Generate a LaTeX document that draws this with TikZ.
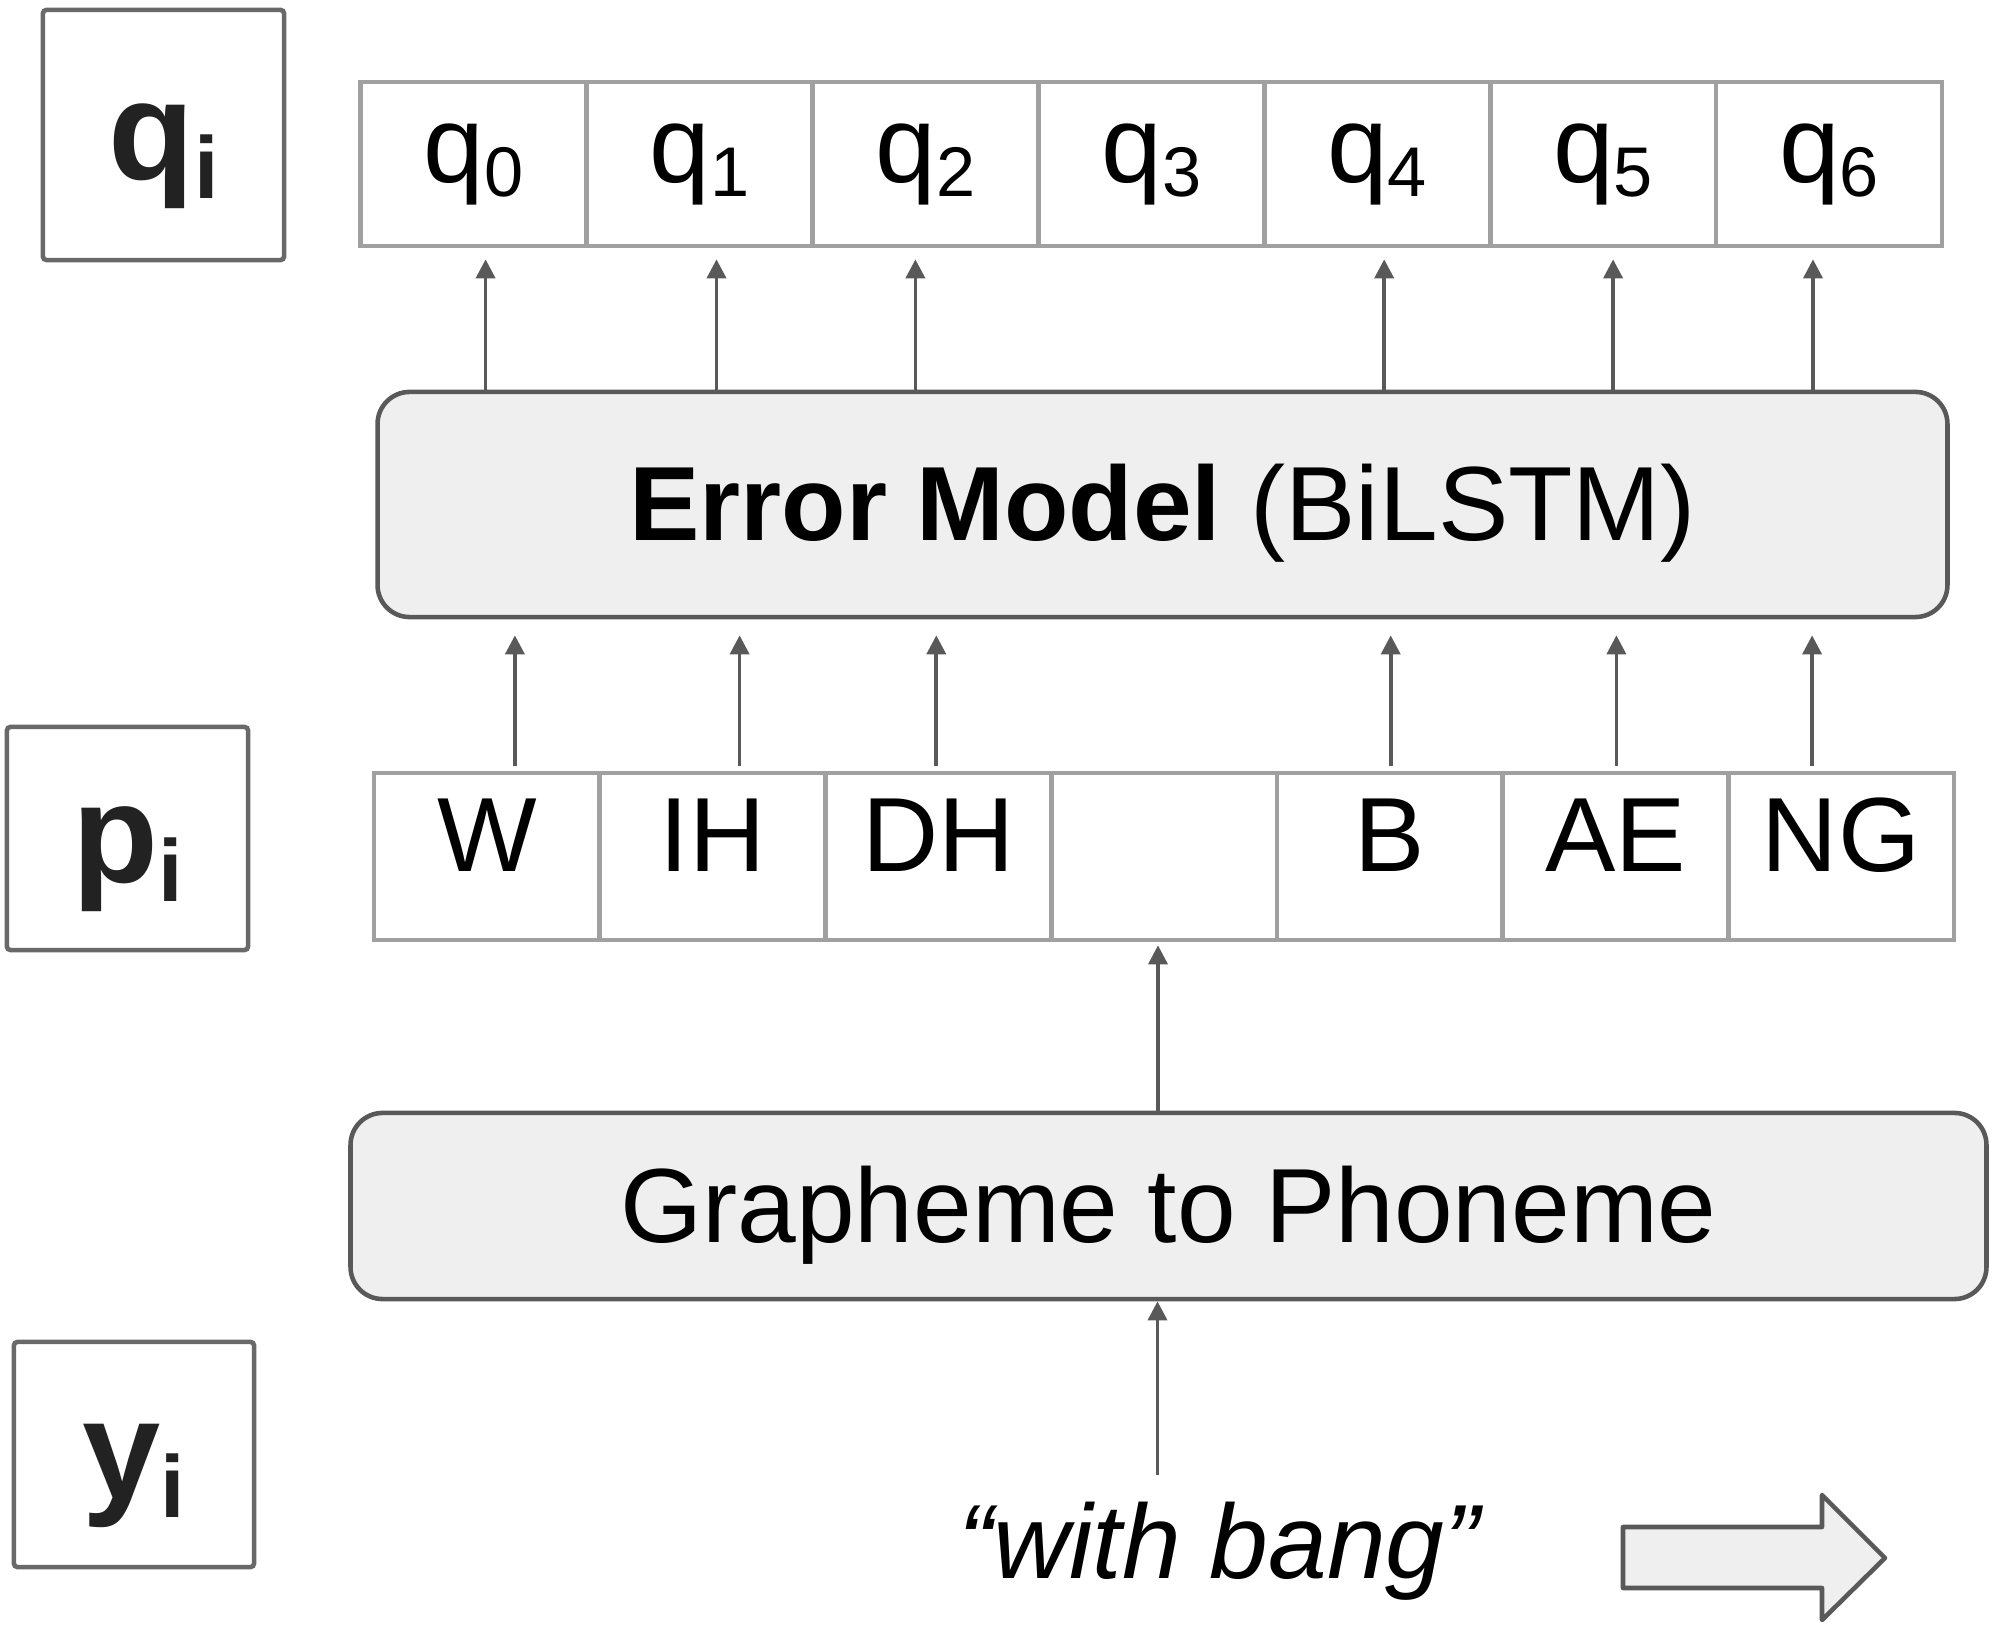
\documentclass[tikz,border=0pt]{standalone}
\usepackage{fontspec}
\setmainfont{Liberation Sans}
\usepackage{tikz}
\usetikzlibrary{arrows.meta,calc}

\definecolor{boxgray}{HTML}{EFEFEF}
\definecolor{edgegray}{HTML}{595959}
\definecolor{cellgray}{HTML}{A0A0A0}
\definecolor{lblgray}{HTML}{696969}
\definecolor{inkgray}{HTML}{222222}

\newcommand{\seqlbl}[1]{{\fontsize{40}{40}\selectfont\bfseries #1}{\fontsize{25}{25}\selectfont\bfseries\raisebox{-0.19cm}{i}}}
\newcommand{\qsub}[1]{q{\fontsize{20}{20}\selectfont\raisebox{-0.14cm}{#1}}}

\begin{document}
\begin{tikzpicture}[x=0.01cm, y=-0.01cm,
    lblbox/.style={draw=lblgray, line width=1.3pt, rounded corners=1pt, minimum width=2.41cm,
        text=inkgray, text height=0.88cm, text depth=0cm, inner sep=0pt},
    cell/.style={draw=cellgray, line width=1.3pt, inner sep=0pt},
    block/.style={draw=edgegray, fill=boxgray, line width=1.3pt, rounded corners=0.32cm,
        font=\fontsize{30}{30}\selectfont, text height=0.72cm, text depth=0cm, inner sep=0pt},
    arr/.style={edgegray, line width=1.05pt, -{Triangle[length=0.19cm,width=0.19cm]}},
    bigarrow/.style={draw=edgegray, fill=boxgray, line width=1.3pt, line join=round}]

    \useasboundingbox (0,0) rectangle (1999,1628);

    % row labels
    \node[lblbox, minimum height=2.50cm] (qlab) at (163.5,135) {\seqlbl{q}};
    \node[lblbox, minimum height=2.23cm] (plab) at (127.5,838.5) {\seqlbl{p}};
    \node[lblbox, minimum width=2.40cm, minimum height=2.25cm] (ylab) at (134,1454.5) {\seqlbl{y}};

    % output sequence
    \foreach \k in {0,...,6}
        \node[cell, minimum width=2.259cm, minimum height=1.64cm, font=\fontsize{31}{31}\selectfont]
            (q\k) at ({473.6+225.9*\k},164) {\qsub{\k}};

    % phoneme sequence
    \foreach \ph [count=\k from 0] in {W,IH,DH,{},B,AE,NG}
        \node[cell, minimum width=2.257cm, minimum height=1.67cm, font=\fontsize{30}{30}\selectfont,
            text height=0.29cm, text depth=0cm] (p\k) at ({486.9+225.7*\k},856.5) {\ph};

    \node[block, minimum width=15.69cm, minimum height=2.25cm] (em) at (1162.5,504.5)
        {\textbf{Error Model} (BiLSTM)};
    \node[block, minimum width=16.35cm, minimum height=1.86cm] (g2p) at (1168.5,1206)
        {Grapheme to Phoneme};

    \node[anchor=base, inner sep=0pt, font=\fontsize{30}{30}\selectfont\itshape] (quote) at (1219,1578)
        {“with bang”};

    \foreach \k/\dx in {0/12,1/17,2/-10,4/7,5/10,6/-16}
        \draw[arr, shorten >=0.11cm] ($(em.north -| q\k)+(\dx,0)$) -- ($(q\k.south)+(\dx,0)$);
    \foreach \k/\dx in {0/28,1/27,2/-2,4/1,5/1,6/-29}
        \draw[arr, shorten <=0.05cm, shorten >=0.16cm] ($(p\k.north)+(\dx,0)$) -- ($(em.south -| p\k)+(\dx,0)$);

    \draw[arr, shorten >=0.03cm] ($(g2p.north -| p3)+(-6,0)$) -- ($(p3.south)+(-6,0)$);
    \draw[arr, shorten <=0.26cm] ($(quote.north -| g2p.south)+(-11,0)$) -- ($(g2p.south)+(-11,0)$);

    % reading direction
    \draw[bigarrow] (1623,1527) -- (1822,1527) -- (1822,1495) -- (1885,1558)
        -- (1822,1620) -- (1822,1588) -- (1623,1588) -- cycle;
\end{tikzpicture}
\end{document}
